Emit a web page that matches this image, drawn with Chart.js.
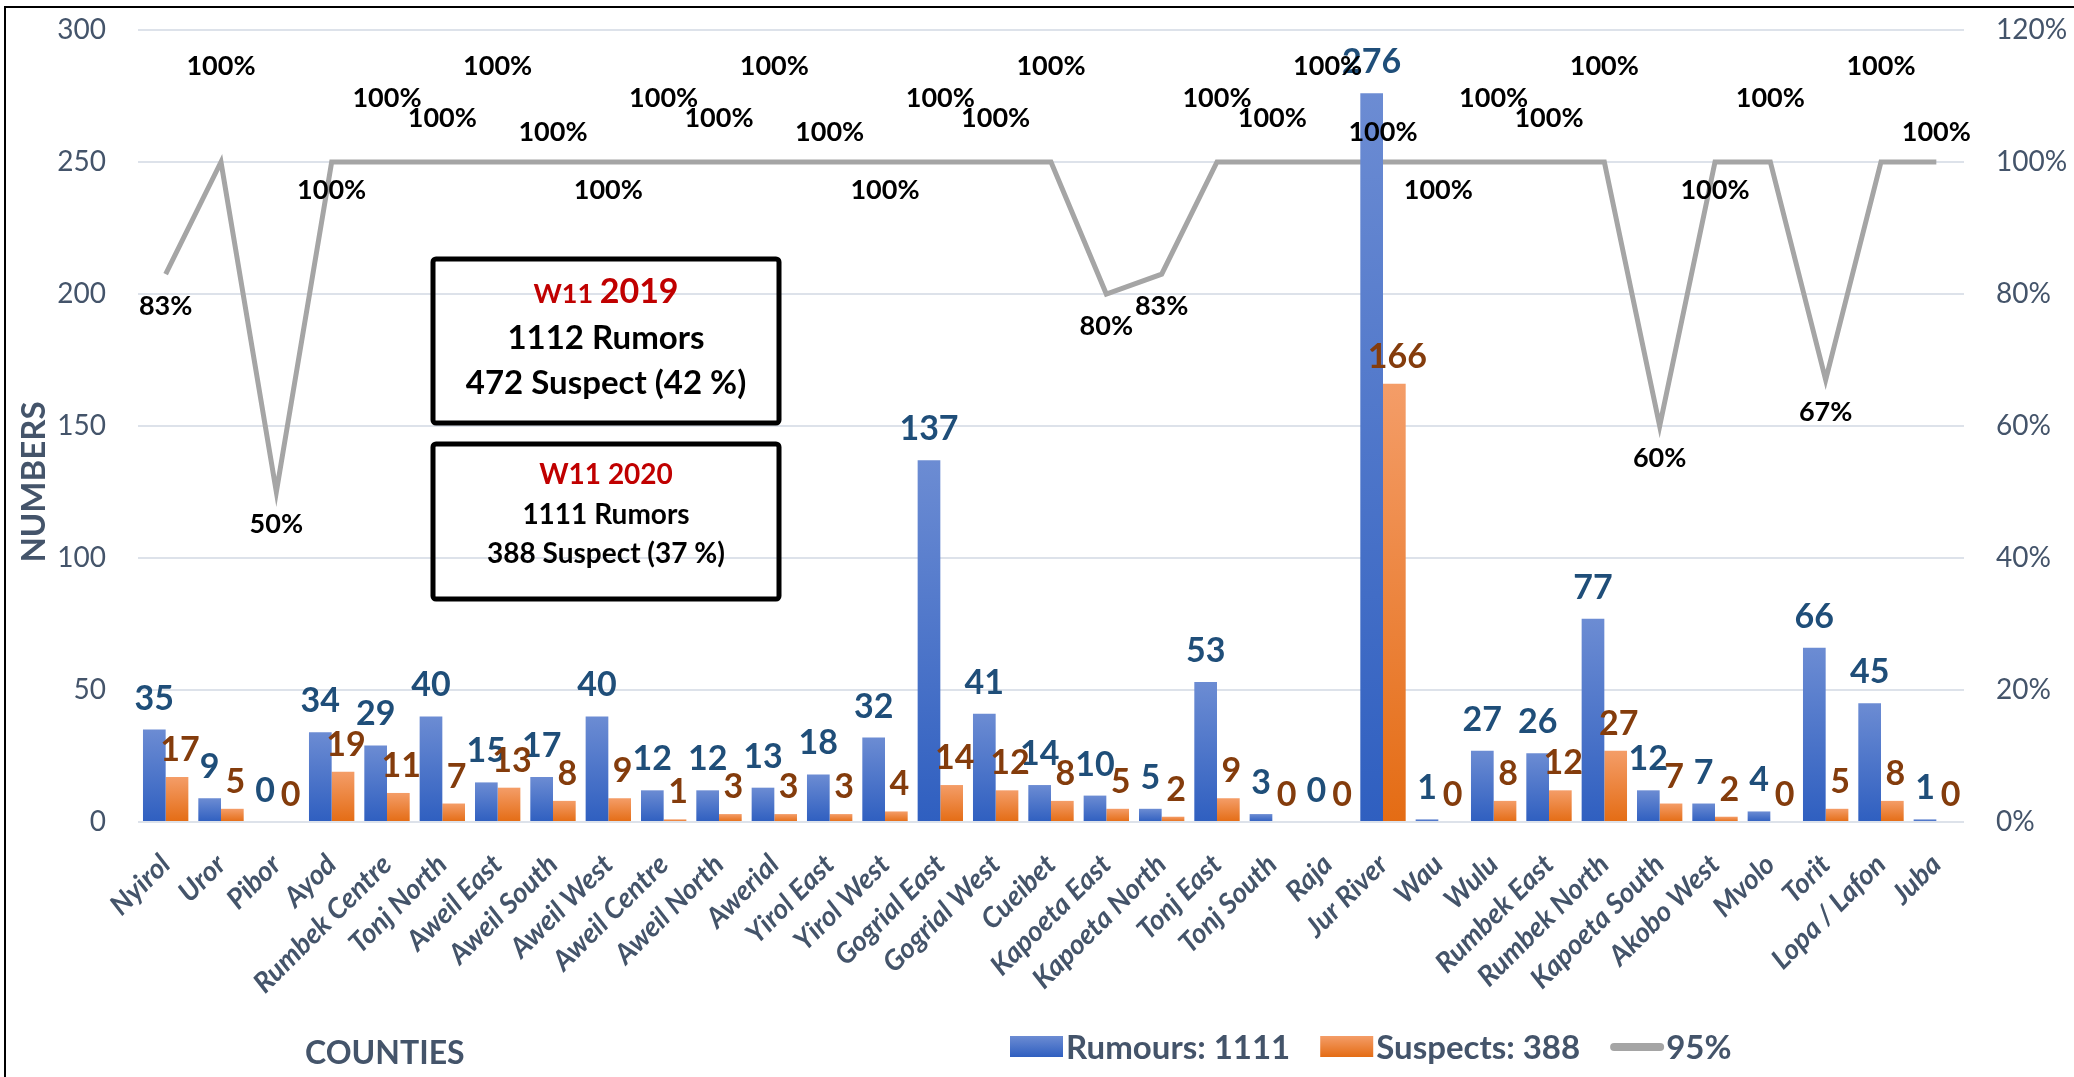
<!DOCTYPE html>
<html>
<head>
<meta charset="utf-8">
<title>Rumours and suspects by county</title>
<script src="https://cdn.jsdelivr.net/npm/chart.js@4.4.0/dist/chart.umd.min.js"></script>
<style>
  html, body { margin: 0; padding: 0; background: #fff; }
  #wrap { position: relative; width: 2074px; height: 1077px; overflow: hidden; }
  #frame { position: absolute; left: 4px; top: 6px; width: 2100px; height: 1100px;
           border-left: 2px solid #000; border-top: 2px solid #000; pointer-events: none; }
</style>
</head>
<body>
<div id="wrap">
  <canvas id="chart" width="2074" height="1077"></canvas>
  <div id="frame"></div>
</div>
<script>
// ---- data ----
const counties = ["Nyirol", "Uror", "Pibor", "Ayod", "Rumbek Centre", "Tonj North", "Aweil East",
  "Aweil South", "Aweil West", "Aweil Centre", "Aweil North", "Awerial", "Yirol East", "Yirol West",
  "Gogrial East", "Gogrial West", "Cueibet", "Kapoeta East", "Kapoeta North", "Tonj East",
  "Tonj South", "Raja", "Jur River", "Wau", "Wulu", "Rumbek East", "Rumbek North",
  "Kapoeta South", "Akobo West", "Mvolo", "Torit", "Lopa / Lafon", "Juba"];

const rumours = [35, 9, 0, 34, 29, 40, 15, 17, 40, 12, 12, 13, 18, 32, 137, 41, 14, 10, 5, 53,
  3, 0, 276, 1, 27, 26, 77, 12, 7, 4, 66, 45, 1];

const suspects = [17, 5, 0, 19, 11, 7, 13, 8, 9, 1, 3, 3, 3, 4, 14, 12, 8, 5, 2, 9,
  0, 0, 166, 0, 8, 12, 27, 7, 2, 0, 5, 8, 0];

// completeness (%) per county
const rate = [83, 100, 50, 100, 100, 100, 100, 100, 100, 100, 100, 100, 100, 100, 100, 100, 100,
  80, 83, 100, 100, 100, 100, 100, 100, 100, 100, 60, 100, 100, 67, 100, 100];

const countTicks = [0, 50, 100, 150, 200, 250, 300];
const rateTicks = [0, 20, 40, 60, 80, 100, 120];

const rateLabel = "95%";
const sum = a => a.reduce((s, v) => s + v, 0);

// ---- styling ----
Chart.defaults.font.family = "Lato, 'Open Sans', sans-serif";
const slate = "#44546A";
const blueTop = "#6C8CD3", blueBottom = "#2F5FC0";
const orangeTop = "#F49D68", orangeBottom = "#E46C14";

function barGradient(top, bottom) {
  return ctx => {
    const chart = ctx.chart;
    const area = chart.chartArea;
    if (!area || ctx.type !== "data") return bottom;
    const y = chart.scales.y.getPixelForValue(ctx.raw);
    if (area.bottom - y < 1) return bottom;
    const g = chart.ctx.createLinearGradient(0, y, 0, area.bottom);
    g.addColorStop(0, top);
    g.addColorStop(1, bottom);
    return g;
  };
}

// value labels on bars and on the line
const valueLabels = {
  id: "valueLabels",
  afterDatasetsDraw(chart) {
    const ctx = chart.ctx;
    ctx.save();
    ctx.textAlign = "center";
    chart.data.datasets.forEach((ds, i) => {
      const meta = chart.getDatasetMeta(i);
      meta.data.forEach((el, j) => {
        const v = ds.data[j];
        if (ds.type === "line") {
          ctx.font = "bold 27px Lato, sans-serif";
          ctx.fillStyle = "#000";
          ctx.textBaseline = "middle";
          // scatter the labels a little like the original
          const stagger = [-44, -96, -30, 28, -64];
          const dy = v < 100 ? 32 : stagger[j % stagger.length];
          ctx.fillText(v + "%", el.x, el.y + dy);
        } else {
          ctx.font = "bold 34px Lato, sans-serif";
          ctx.textBaseline = "alphabetic";
          ctx.fillStyle = ds.labelColor;
          ctx.fillText(String(v), el.x + (i === 1 ? 3 : 0), el.y - (i === 1 ? 16 : 20));
        }
      });
    });
    ctx.restore();
  }
};

// summary boxes, axis captions and legend
const extras = {
  id: "extras",
  afterDraw(chart) {
    const ctx = chart.ctx;
    ctx.save();

    function box(x, y, w, h) {
      ctx.lineWidth = 5;
      ctx.strokeStyle = "#000";
      ctx.beginPath();
      ctx.roundRect(x, y, w, h, 3);
      ctx.stroke();
    }
    ctx.textBaseline = "alphabetic";

    // 2019 box
    box(433, 259, 346, 164);
    ctx.fillStyle = "#C00000";
    ctx.font = "bold 27px Lato, sans-serif";
    const w11 = ctx.measureText("W11 ").width;
    ctx.font = "bold 34px Lato, sans-serif";
    const y19 = ctx.measureText("2019").width;
    let sx = 606 - (w11 + y19) / 2;
    ctx.textAlign = "left";
    ctx.font = "bold 27px Lato, sans-serif";
    ctx.fillText("W11 ", sx, 303);
    ctx.font = "bold 34px Lato, sans-serif";
    ctx.fillText("2019", sx + w11, 303);
    ctx.textAlign = "center";
    ctx.fillStyle = "#000";
    ctx.font = "bold 33px Lato, sans-serif";
    ctx.fillText("1112 Rumors", 606, 349);
    ctx.fillText("472 Suspect (42 %)", 606, 394);

    // 2020 box
    box(433, 444, 346, 155);
    ctx.fillStyle = "#C00000";
    ctx.font = "bold 28px Lato, sans-serif";
    ctx.fillText("W11 2020", 606, 484);
    ctx.fillStyle = "#000";
    ctx.font = "bold 28px Lato, sans-serif";
    ctx.fillText("1111 Rumors", 606, 524);
    ctx.fillText("388 Suspect (37 %)", 606, 563);

    // axis captions
    ctx.fillStyle = slate;
    ctx.font = "bold 33px Lato, sans-serif";
    ctx.save();
    ctx.translate(34, 482);
    ctx.rotate(-Math.PI / 2);
    ctx.textBaseline = "middle";
    ctx.fillText("NUMBERS", 0, 0);
    ctx.restore();
    ctx.textAlign = "left";
    ctx.font = "bold 32px Lato, sans-serif";
    ctx.fillText("COUNTIES", 305, 1064);

    // legend
    let x = 1010;
    const base = 1059;
    ctx.font = "bold 33px Lato, sans-serif";
    chart.data.datasets.forEach(ds => {
      if (ds.type === "line") {
        ctx.strokeStyle = ds.borderColor;
        ctx.lineWidth = 8;
        ctx.lineCap = "round";
        ctx.beginPath();
        ctx.moveTo(x + 4, 1047);
        ctx.lineTo(x + 50, 1047);
        ctx.stroke();
      } else {
        const g = ctx.createLinearGradient(0, 1036, 0, 1057);
        g.addColorStop(0, ds.swatch[0]);
        g.addColorStop(1, ds.swatch[1]);
        ctx.fillStyle = g;
        ctx.fillRect(x, 1036, 53, 21);
      }
      ctx.fillStyle = slate;
      ctx.fillText(ds.label, x + 56, base);
      x += 56 + ctx.measureText(ds.label).width + 30;
    });

    ctx.restore();
  }
};

new Chart(document.getElementById("chart"), {
  data: {
    labels: counties,
    datasets: [{
      type: "bar",
      label: "Rumours: " + sum(rumours),
      data: rumours,
      backgroundColor: barGradient(blueTop, blueBottom),
      swatch: [blueTop, blueBottom],
      labelColor: "#1F4E79",
      categoryPercentage: 0.82,
      barPercentage: 1.0,
      order: 1
    }, {
      type: "bar",
      label: "Suspects: " + sum(suspects),
      data: suspects,
      backgroundColor: barGradient(orangeTop, orangeBottom),
      swatch: [orangeTop, orangeBottom],
      labelColor: "#843C0C",
      categoryPercentage: 0.82,
      barPercentage: 1.0,
      order: 2
    }, {
      type: "line",
      label: rateLabel,
      data: rate,
      yAxisID: "y1",
      borderColor: "#A5A5A5",
      borderWidth: 5,
      pointRadius: 0,
      tension: 0,
      order: 5
    }]
  },
  options: {
    responsive: false,
    animation: false,
    layout: { padding: { top: 30, left: 0, right: 0, bottom: 0 } },
    plugins: {
      legend: { display: false },
      tooltip: { enabled: false }
    },
    scales: {
      x: {
        grid: { display: false },
        border: { display: false },
        ticks: {
          autoSkip: false,
          maxRotation: 45,
          minRotation: 45,
          padding: 18,
          color: slate,
          font: { size: 28, weight: "bold", style: "italic" }
        },
        afterFit: s => { s.height = 255; s.paddingLeft = 0; s.paddingRight = 0; }
      },
      y: {
        position: "left",
        min: 0,
        max: 300,
        afterBuildTicks: s => { s.ticks = countTicks.map(v => ({ value: v })); },
        grid: { color: "#DDE2EA", lineWidth: 2, drawTicks: false },
        border: { display: false },
        ticks: { padding: 32, color: slate, font: { size: 28 } },
        afterFit: s => { s.width = 138; s.paddingTop = 0; s.paddingBottom = 0; }
      },
      y1: {
        position: "right",
        min: 0,
        max: 120,
        afterBuildTicks: s => { s.ticks = rateTicks.map(v => ({ value: v })); },
        grid: { display: false, drawTicks: false },
        border: { display: false },
        ticks: { padding: 32, color: slate, font: { size: 28 }, callback: v => v + "%" },
        afterFit: s => { s.width = 110; s.paddingTop = 0; s.paddingBottom = 0; }
      }
    }
  },
  plugins: [valueLabels, extras]
});
</script>
</body>
</html>
